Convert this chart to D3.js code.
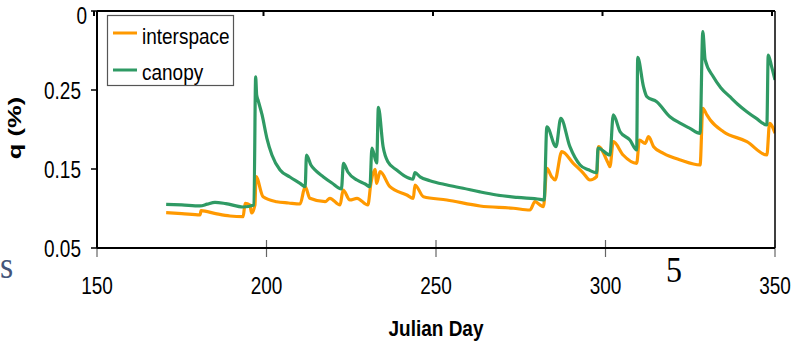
<!DOCTYPE html>
<html><head><meta charset="utf-8">
<script src="https://cdn.jsdelivr.net/npm/d3@7"></script>
<style>html,body{margin:0;padding:0;background:#fff;} svg{display:block;}</style>
</head><body><svg id="c" width="792" height="341"></svg>
<script>
// ---------- data ----------
const seriesNames = ["interspace", "canopy"];
const xTicks = [150, 200, 250, 300, 350];
const yTicks = [0.05, 0.15, 0.25, 0.35];
const yTickLabels = ["0.05", "0.15", "0.25", "0"];

const interspaceDays = [170.4,175,180.4,180.7,185,189.2,193.1,193.7,195.1,195.6,196.6,196.9,199.0,203.0,206.5,209.9,211.4,212.8,217.3,218.7,221.7,222.6,224.6,226.7,229.9,230.8,232.0,232.5,233.5,236.4,241.4,243.3,243.8,246.3,253.2,263.0,272.8,277.7,279.2,280.7,281.7,282.7,284.1,285.1,287.1,290.5,293.5,295.4,297.4,297.9,300.8,301.3,302.3,305.2,309.2,310.0,311.7,312.7,314.2,317.1,322.1,327.9,328.7,329.9,330.9,334.8,341.7,347.6,348.4,350.0];
const interspaceQ = [0.0947,0.0935,0.0918,0.0972,0.0935,0.0905,0.0896,0.1066,0.1044,0.0943,0.1044,0.1403,0.1149,0.1086,0.1070,0.1057,0.1276,0.1129,0.1086,0.1129,0.1044,0.1234,0.1108,0.1129,0.1044,0.1319,0.1496,0.1319,0.1466,0.1276,0.1171,0.1129,0.1297,0.1149,0.1108,0.1032,0.1003,0.0981,0.1086,0.1044,0.1023,0.1509,0.1403,0.1361,0.1719,0.1572,0.1446,0.1361,0.1403,0.1782,0.1572,0.1529,0.1846,0.1677,0.1572,0.1867,0.1825,0.1909,0.1782,0.1699,0.1614,0.1551,0.2268,0.2184,0.2120,0.1972,0.1846,0.1677,0.2078,0.1952];

const canopyDays = [170.4,175,180.4,182.5,184.8,188,193.1,196.3,196.8,197.1,197.5,198.7,200.1,201.6,204.0,206.9,209.9,211.4,211.8,213.1,214.6,216.7,219.3,222.1,222.7,224.0,226.7,229.1,230.5,231.1,232.5,233.0,234.4,235.8,238.4,240.8,243.2,243.8,245.3,248.2,253,258.0,263,267.9,274,280.7,281.9,282.7,285.4,286.8,289.5,292.5,295,297.4,297.8,301.3,302.3,304.3,307.2,309.2,309.5,311.2,312.2,315.1,319.0,322,324.9,327.9,328.7,329.4,331.8,334,336.7,339,341.7,344.5,347.6,348.0,349.0,350.0];
const canopyQ = [0.1053,0.1045,0.1032,0.1055,0.1078,0.1062,0.1019,0.1044,0.2665,0.2437,0.2373,0.2184,0.1892,0.1677,0.1487,0.1399,0.1319,0.1276,0.1677,0.1551,0.1475,0.1403,0.1323,0.1247,0.1572,0.1462,0.1361,0.1310,0.1276,0.1766,0.1576,0.2281,0.1782,0.1592,0.1487,0.1411,0.1373,0.1453,0.1400,0.1352,0.1300,0.1256,0.1210,0.1171,0.1140,0.1116,0.1108,0.2035,0.1782,0.2142,0.1782,0.1551,0.1490,0.1453,0.1766,0.1677,0.2184,0.1972,0.1867,0.1741,0.2914,0.2542,0.2415,0.2352,0.2162,0.2080,0.2015,0.1952,0.3238,0.2880,0.2668,0.2530,0.2415,0.2320,0.2225,0.2140,0.2057,0.2943,0.2795,0.2627];

// ---------- layout ----------
const svg = d3.select("#c");
const L = 97, R = 775, T = 11, B = 248;
const x = d3.scaleLinear().domain([150, 350]).range([L, R]);
const y = d3.scaleLinear().domain([0.05, 0.35]).range([B, T]);
const colors = { interspace: "#ff9900", canopy: "#2f9a64" };
const SANS = "'Liberation Sans', Arial, Helvetica, sans-serif";
const SERIF = "'Liberation Serif', 'Times New Roman', serif";

function txt(px, py, s, o) {
  const g = svg.append("g")
    .attr("transform", `translate(${px},${py})${o.rot ? ` rotate(${o.rot})` : ""} scale(${o.sx || 1},${o.k || 1})`);
  g.append("text")
    .attr("text-anchor", o.anchor || "start")
    .attr("font-family", o.family || SANS)
    .attr("font-size", o.size)
    .attr("font-weight", o.weight || "normal")
    .attr("fill", o.fill || "#000")
    .text(s);
}

svg.append("defs").append("clipPath").attr("id", "plot")
  .append("rect").attr("x", L).attr("y", T).attr("width", R - L).attr("height", B - T);

const series = [
  { name: "interspace", pts: d3.zip(interspaceDays, interspaceQ) },
  { name: "canopy", pts: d3.zip(canopyDays, canopyQ) }
];
const line = d3.line().x(d => x(d[0])).y(d => y(d[1])).curve(d3.curveMonotoneX);
svg.append("g").attr("clip-path", "url(#plot)")
  .selectAll("path").data(series).join("path")
  .attr("d", d => line(d.pts))
  .attr("fill", "none")
  .attr("stroke", d => colors[d.name])
  .attr("stroke-width", 3.2)
  .attr("stroke-linejoin", "round");

// bottom axis ticks (crossing)
svg.append("g").selectAll("line").data(xTicks).join("line")
  .attr("x1", d => x(d)).attr("x2", d => x(d))
  .attr("y1", d => d === 150 ? B : B - 8).attr("y2", B + 9)
  .attr("stroke", "#666").attr("stroke-width", 1.2);
// top inner ticks
svg.append("g").selectAll("line").data(xTicks).join("line")
  .attr("x1", d => x(d) - 3).attr("x2", d => x(d) - 3)
  .attr("y1", T).attr("y2", T + 5)
  .attr("stroke", "#000").attr("stroke-width", 2);
// left ticks
svg.append("g").selectAll("line").data(yTicks).join("line")
  .attr("x1", L - 6).attr("x2", L)
  .attr("y1", d => y(d)).attr("y2", d => y(d))
  .attr("stroke", "#000").attr("stroke-width", 1.5);

// frame
svg.append("line").attr("x1", L).attr("x2", R).attr("y1", B).attr("y2", B).attr("stroke", "#000").attr("stroke-width", 2.2);
svg.append("line").attr("x1", L).attr("x2", L).attr("y1", T).attr("y2", B).attr("stroke", "#000").attr("stroke-width", 2);
svg.append("line").attr("x1", L).attr("x2", R).attr("y1", T).attr("y2", T).attr("stroke", "#000").attr("stroke-width", 2);
svg.append("line").attr("x1", R).attr("x2", R).attr("y1", T).attr("y2", B).attr("stroke", "#000").attr("stroke-width", 1.5);

// tick labels
xTicks.forEach(t => txt(x(t), 294, String(t), { size: 19, k: 1.3, anchor: "middle" }));
yTicks.forEach((t, i) => {
  const top = i === yTicks.length - 1;
  txt(top ? 87 : 81, y(t) + (top ? 13 : 8.5), yTickLabels[i], { size: 19, k: 1.25, anchor: "end" });
});

// axis titles
txt(436, 336, "Julian Day", { size: 19, k: 1.18, anchor: "middle", weight: "bold" });
txt(21, 128, "q (%)", { size: 18, rot: -90, sx: 1.42, anchor: "middle", weight: "bold" });

// legend
svg.append("rect").attr("x", 107.5).attr("y", 15.5).attr("width", 126).attr("height", 70)
  .attr("fill", "#fff").attr("stroke", "#555").attr("stroke-width", 1.2);
const legY = [33, 70], legBase = [44, 80];
seriesNames.forEach((n, i) => {
  svg.append("line").attr("x1", 113).attr("x2", 137).attr("y1", legY[i]).attr("y2", legY[i])
    .attr("stroke", colors[n]).attr("stroke-width", 3);
  txt(142, legBase[i], n, { size: 19, k: 1.15 });
});

// stray slide text
txt(0, 278, "s", { size: 34, k: 1.12, family: SERIF, fill: "#44557a" });
txt(666, 282, "5", { size: 32, k: 1.1, family: SERIF });
</script>
</body></html>
